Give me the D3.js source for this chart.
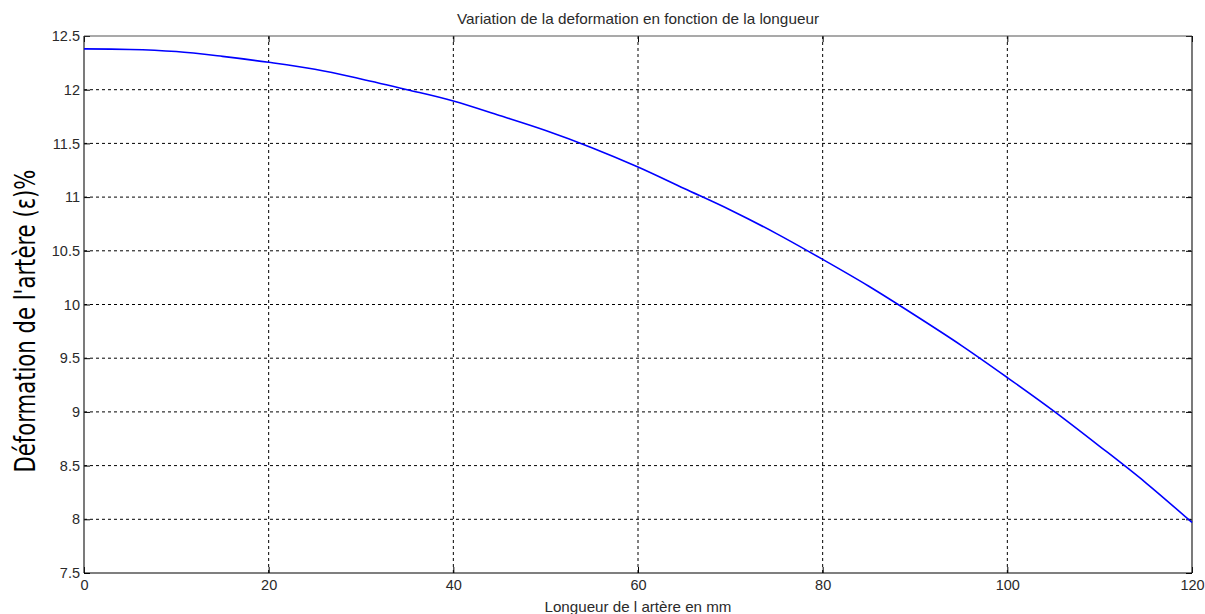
<!DOCTYPE html>
<html lang="fr">
<head>
  <meta charset="UTF-8">
  <title>Variation de la deformation</title>
  <script src="https://d3js.org/d3.v7.min.js"></script>
  <style>
    body { margin: 0; background: #fff; font-family: "Liberation Sans", Arial, sans-serif; }
    .grid line { stroke: #000; stroke-dasharray: 3,3; stroke-width: 1; }
    .axis text { fill: #2a2a2a; font-size: 14.5px; }
  </style>
</head>
<body>
<div id="chart"></div>
<script>
// longueur (mm) and deformation (%)
var longueur = [0, 5, 10, 15, 20, 25, 30, 35, 40, 45, 50, 55, 60,
                65, 70, 75, 80, 85, 90, 95, 100, 105, 110, 115, 120];
var deformation = [12.38, 12.375, 12.355, 12.31, 12.255, 12.19, 12.10, 12.00, 11.895,
                   11.76, 11.62, 11.46, 11.28, 11.08, 10.88, 10.66, 10.42, 10.17,
                   9.90, 9.62, 9.32, 9.01, 8.68, 8.34, 7.97];
var xTicks = [0, 20, 40, 60, 80, 100, 120];
var yTicks = [7.5, 8, 8.5, 9, 9.5, 10, 10.5, 11, 11.5, 12, 12.5];

var width = 1205, height = 614;
// plot box edges (window.top is reserved, so use other names)
var pLeft = 84, pRight = 1192, pTop = 36, pBottom = 573;

var svg = d3.select("#chart").append("svg")
  .attr("width", width)
  .attr("height", height);

var x = d3.scaleLinear().domain([0, 120]).range([pLeft, pRight]);
var y = d3.scaleLinear().domain([7.5, 12.5]).range([pBottom, pTop]);

// grid lines (dashed)
var grid = svg.append("g").attr("class", "grid");
grid.selectAll("line.v")
  .data(xTicks.slice(1, -1))
  .enter().append("line")
    .attr("class", "v")
    .attr("x1", function(d){ return x(d); })
    .attr("x2", function(d){ return x(d); })
    .attr("y1", pTop)
    .attr("y2", pBottom);
grid.selectAll("line.h")
  .data(yTicks.slice(1, -1))
  .enter().append("line")
    .attr("class", "h")
    .attr("x1", pLeft)
    .attr("x2", pRight)
    .attr("y1", function(d){ return y(d); })
    .attr("y2", function(d){ return y(d); });

// axes with inward ticks, matlab style
var xAxis = d3.axisBottom(x).tickValues(xTicks).tickSize(-6).tickPadding(7)
  .tickFormat(d3.format("d"));
var yAxis = d3.axisLeft(y).tickValues(yTicks).tickSize(-6).tickPadding(4)
  .tickFormat(function(d){ return String(d); });

var gx = svg.append("g").attr("class", "axis")
  .attr("transform", "translate(0," + pBottom + ")")
  .call(xAxis);
var gy = svg.append("g").attr("class", "axis")
  .attr("transform", "translate(" + pLeft + ",0)")
  .call(yAxis);
gx.select(".domain").remove();
gy.select(".domain").remove();
gx.selectAll(".tick line").attr("stroke", "#000");
gy.selectAll(".tick line").attr("stroke", "#000");

// top and right ticks
svg.append("g").attr("transform", "translate(0," + pTop + ")")
  .call(d3.axisTop(x).tickValues(xTicks).tickSize(-6).tickFormat(""))
  .call(function(g){ g.select(".domain").remove(); });
svg.append("g").attr("transform", "translate(" + pRight + ",0)")
  .call(d3.axisRight(y).tickValues(yTicks).tickSize(-6).tickFormat(""))
  .call(function(g){ g.select(".domain").remove(); });

// frame
svg.append("line").attr("x1", pLeft).attr("x2", pRight).attr("y1", pTop).attr("y2", pTop)
  .attr("stroke", "#555").attr("stroke-width", 1.2);
svg.append("line").attr("x1", pRight).attr("x2", pRight).attr("y1", pTop).attr("y2", pBottom)
  .attr("stroke", "#222").attr("stroke-width", 1.2);
svg.append("line").attr("x1", pLeft).attr("x2", pLeft).attr("y1", pTop).attr("y2", pBottom)
  .attr("stroke", "#222").attr("stroke-width", 1.2);
svg.append("line").attr("x1", pLeft).attr("x2", pRight).attr("y1", pBottom).attr("y2", pBottom)
  .attr("stroke", "#000").attr("stroke-width", 1.2);

// the curve
var line = d3.line()
  .x(function(d, i){ return x(longueur[i]); })
  .y(function(d){ return y(d); })
  .curve(d3.curveMonotoneX);
svg.append("path")
  .datum(deformation)
  .attr("d", line)
  .attr("fill", "none")
  .attr("stroke", "#0000ff")
  .attr("stroke-width", 1.6);

// title and labels
svg.append("text")
  .attr("x", (pLeft + pRight) / 2)
  .attr("y", 24)
  .attr("text-anchor", "middle")
  .attr("font-size", "15px")
  .attr("textLength", 362)
  .attr("lengthAdjust", "spacingAndGlyphs")
  .attr("fill", "#2a2a2a")
  .text("Variation de la deformation en fonction de la longueur");

svg.append("text")
  .attr("x", (pLeft + pRight) / 2)
  .attr("y", 612)
  .attr("text-anchor", "middle")
  .attr("font-size", "15px")
  .attr("textLength", 187)
  .attr("lengthAdjust", "spacingAndGlyphs")
  .attr("fill", "#2a2a2a")
  .text("Longueur de l artère en mm");

svg.append("text")
  .attr("transform", "translate(35,321) rotate(-90)")
  .attr("text-anchor", "middle")
  .attr("font-family", "'DejaVu Sans Condensed', 'DejaVu Sans', sans-serif")
  .attr("font-stretch", "condensed")
  .attr("font-size", "28px")
  .attr("textLength", 303)
  .attr("lengthAdjust", "spacingAndGlyphs")
  .attr("fill", "#000")
  .text("Déformation de l'artère (ε)%");
</script>
</body>
</html>
